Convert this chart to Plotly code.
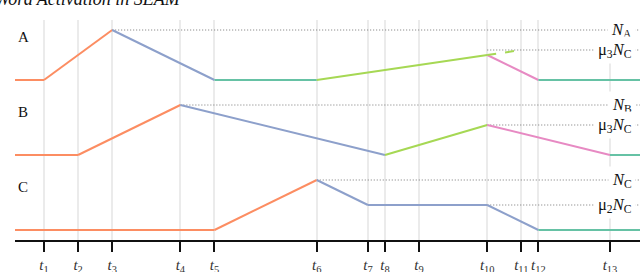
import plotly.graph_objects as go

# ---- data ----
tick_names = ["t1", "t2", "t3", "t4", "t5", "t6", "t7", "t8", "t9", "t10", "t11", "t12", "t13"]
tick_pos = [1, 2, 3, 5, 6, 9, 10.5, 11, 12, 14, 15, 15.5, 17.6]
tick_labels = ["<i>t</i><sub>%d</sub>" % i for i in range(1, 14)]
T = dict(zip(tick_names, tick_pos))
t_start, t_end = 0.15, 18.6

row_names = ["A", "B", "C"]
row_offset = [3.0, 1.5, 0.0]

# activation levels (relative to each row's resting level)
N_full = 1.0
mu3_NC = 0.6
mu2_NC = 0.5

# Row A
A_times = [t_start, T["t1"], T["t3"], T["t5"], T["t6"], T["t10"], T["t12"], t_end]
A_values = [0, 0, N_full, 0, 0, 0.5, 0, 0]
A_phases = ["orange", "orange", "blue", "teal", "green", "pink", "teal"]
A_dash_times = [T["t10"], T["t11"]]
A_dash_values = [0.5, mu3_NC]

# Row B
B_times = [t_start, T["t2"], T["t4"], T["t8"], T["t10"], T["t13"], t_end]
B_values = [0, 0, N_full, 0, mu3_NC, 0, 0]
B_phases = ["orange", "orange", "blue", "green", "pink", "teal"]

# Row C
C_times = [t_start, T["t5"], T["t6"], T["t7"], T["t10"], T["t12"], t_end]
C_values = [0, 0, N_full, mu2_NC, mu2_NC, 0, 0]
C_phases = ["orange", "orange", "blue", "blue", "blue", "teal"]

# reference levels: (start time, level, label) per row
A_refs = [(T["t3"], N_full, "<i>N</i><sub>A</sub>"), (T["t10"], mu3_NC, "μ<sub>3</sub><i>N</i><sub>C</sub>")]
B_refs = [(T["t4"], N_full, "<i>N</i><sub>B</sub>"), (T["t10"], mu3_NC, "μ<sub>3</sub><i>N</i><sub>C</sub>")]
C_refs = [(T["t6"], N_full, "<i>N</i><sub>C</sub>"), (T["t10"], mu2_NC, "μ<sub>2</sub><i>N</i><sub>C</sub>")]

phase_color = {"orange": "#fc8d62", "blue": "#8da0cb", "teal": "#66c2a5",
               "green": "#a6d854", "pink": "#e78ac3"}

FONT = "Liberation Serif"

fig = go.Figure()

rows = [(A_times, A_values, A_phases, A_refs),
        (B_times, B_values, B_phases, B_refs),
        (C_times, C_values, C_phases, C_refs)]

# dotted reference lines first (under curves)
for (times, values, phases, refs), off in zip(rows, row_offset):
    for t0, lvl, _ in refs:
        fig.add_trace(go.Scatter(x=[t0, t_end], y=[off + lvl, off + lvl], mode="lines",
                                 line=dict(color="#777777", width=1, dash="1px,2px"),
                                 hoverinfo="skip", showlegend=False))

for (times, values, phases, refs), off in zip(rows, row_offset):
    for i, ph in enumerate(phases):
        fig.add_trace(go.Scatter(x=[times[i], times[i + 1]],
                                 y=[off + values[i], off + values[i + 1]],
                                 mode="lines", line=dict(color=phase_color[ph], width=2),
                                 hoverinfo="skip", showlegend=False))

fig.add_trace(go.Scatter(x=A_dash_times, y=[row_offset[0] + v for v in A_dash_values],
                         mode="lines", line=dict(color=phase_color["green"], width=2, dash="dash"),
                         hoverinfo="skip", showlegend=False))

annotations = []
for name, off, (_, _, _, refs) in zip(row_names, row_offset, rows):
    annotations.append(dict(text=name, xref="paper", x=0, xshift=1, xanchor="left",
                            yref="y", y=off + 0.87, yanchor="middle", showarrow=False,
                            font=dict(family=FONT, size=15, color="#111")))
    for t0, lvl, lab in refs:
        annotations.append(dict(text=lab, xref="paper", x=1, xshift=-4, xanchor="right",
                                yref="y", y=off + lvl, yanchor="middle", showarrow=False,
                                bgcolor="white", borderpad=3,
                                font=dict(family=FONT, size=16.5, color="#111")))

annotations.append(dict(text="<i>Word Activation in SEAM</i>", xref="paper", x=-0.035,
                        xanchor="left", yref="paper", y=1.095, yanchor="middle",
                        showarrow=False, font=dict(family=FONT, size=18, color="#111")))

fig.update_layout(
    width=640, height=272,
    margin=dict(l=15, r=0, t=20, b=32),
    plot_bgcolor="white", paper_bgcolor="white",
    annotations=annotations,
    xaxis=dict(range=[t_start, 18.48], tickvals=tick_pos, ticktext=tick_labels,
               showgrid=True, gridcolor="#ebebeb", gridwidth=2, zeroline=False,
               showline=True, linecolor="#111", linewidth=2,
               ticks="outside", ticklen=10, tickwidth=2, tickcolor="#111",
               tickfont=dict(family=FONT, size=15, color="#333"), fixedrange=True,
               automargin=False),
    yaxis=dict(range=[-0.2, 4.2], visible=False, fixedrange=True),
)

fig.write_html("out.html", config={"displayModeBar": False},
               post_script="document.body.style.margin='0';document.body.style.overflow='hidden';")
